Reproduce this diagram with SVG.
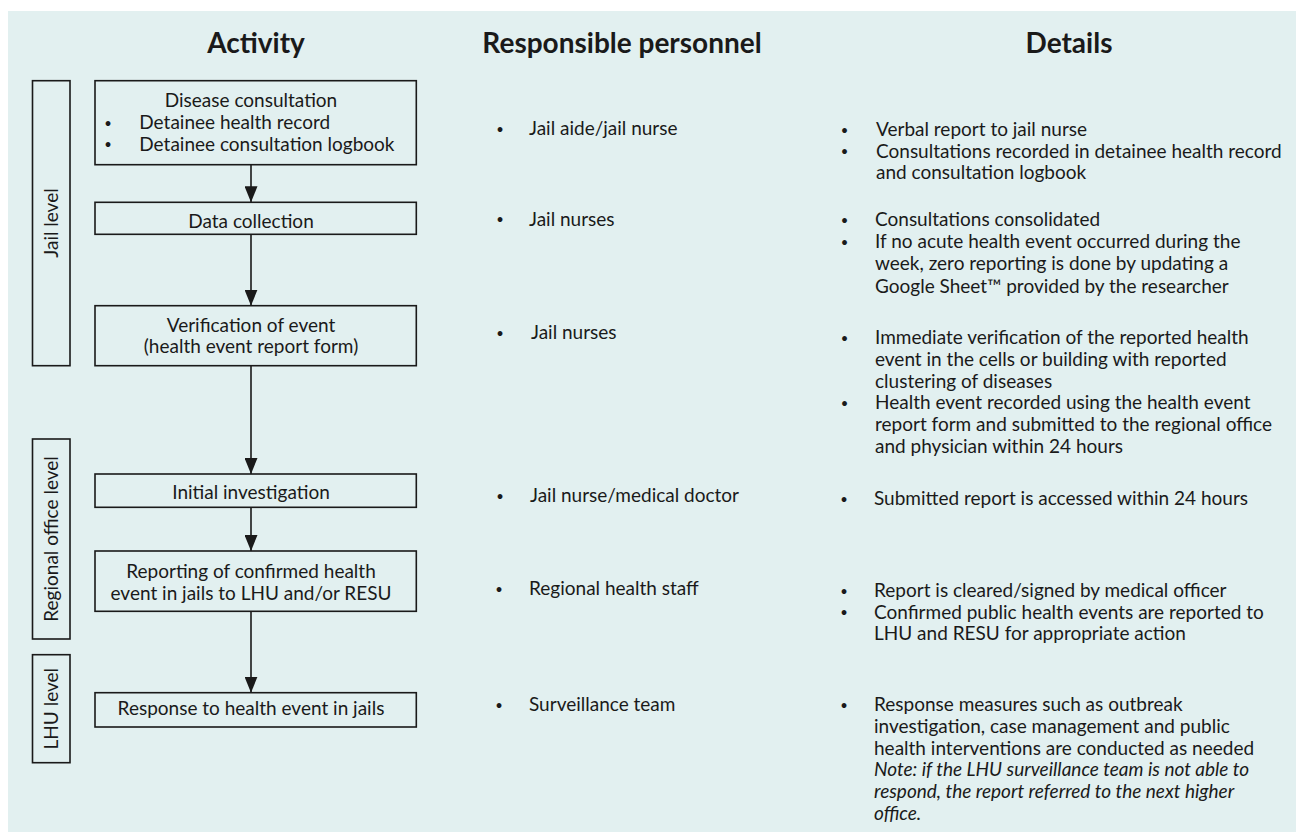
<svg xmlns="http://www.w3.org/2000/svg" width="1296" height="832" viewBox="0 0 1296 832">
<defs>
<style>
text{font-family:Lato,"Source Sans Pro","Liberation Sans",sans-serif;fill:#1a1a1a;font-size:19px}
.h{font-weight:bold;font-size:28px;text-anchor:middle}
.c{text-anchor:middle}
.it{font-style:italic}
.b{font-size:13px;text-anchor:middle}
.box{fill:none;stroke:#1a1a1a;stroke-width:1.6}
.con{stroke:#1a1a1a;stroke-width:1.6;fill:none}
</style>
<marker id="ah" markerWidth="16" markerHeight="13" refX="16" refY="6.5" orient="auto" markerUnits="userSpaceOnUse">
<path d="M0,0 L16,6.5 L0,13 Z" fill="#1a1a1a"/>
</marker>
</defs>
<rect x="8" y="11" width="1288" height="821" fill="#e2f0f0"/>
<g id="headers">
<text class="h" x="256" y="53">Activity</text>
<text class="h" x="622" y="53">Responsible personnel</text>
<text class="h" x="1069" y="53">Details</text>
</g>
<g id="level-jail">
<rect class="box" x="32.5" y="80.7" width="37.5" height="285"/>
<text class="c" transform="translate(57.5,223) rotate(-90)">Jail level</text>
</g>
<g id="level-regional">
<rect class="box" x="32.5" y="439" width="37.5" height="200"/>
<text class="c" transform="translate(57.5,539) rotate(-90)">Regional office level</text>
</g>
<g id="level-lhu">
<rect class="box" x="32.5" y="654.7" width="37.5" height="108"/>
<text class="c" transform="translate(57.5,708.7) rotate(-90)">LHU level</text>
</g>
<g id="connectors">
<line class="con" x1="251" y1="164.7" x2="251" y2="202.3" marker-end="url(#ah)"/>
<line class="con" x1="251" y1="234.3" x2="251" y2="305.7" marker-end="url(#ah)"/>
<line class="con" x1="251" y1="365.7" x2="251" y2="474" marker-end="url(#ah)"/>
<line class="con" x1="251" y1="507.3" x2="251" y2="551" marker-end="url(#ah)"/>
<line class="con" x1="251" y1="611.3" x2="251" y2="692.7" marker-end="url(#ah)"/>
</g>
<g id="node-disease-consultation">
<rect class="box" x="95" y="80.7" width="321.3" height="84"/>
<text class="c" x="251" y="107.3">Disease consultation</text>
<text class="b" x="108" y="127.5">•</text><text x="139.3" y="129">Detainee health record</text>
<text class="b" x="108" y="149.2">•</text><text x="139.3" y="150.7">Detainee consultation logbook</text>
</g>
<g id="node-data-collection">
<rect class="box" x="95" y="202.3" width="321.3" height="32"/>
<text class="c" x="251" y="227.5">Data collection</text>
</g>
<g id="node-verification">
<rect class="box" x="95" y="305.7" width="321.3" height="60"/>
<text class="c" x="251" y="331.7">Verification of event</text>
<text class="c" x="251" y="353.4">(health event report form)</text>
</g>
<g id="node-initial-investigation">
<rect class="box" x="95" y="474" width="321.3" height="33.3"/>
<text class="c" x="251" y="499.3">Initial investigation</text>
</g>
<g id="node-reporting">
<rect class="box" x="95" y="551" width="321.3" height="60.3"/>
<text class="c" x="251" y="578">Reporting of confirmed health</text>
<text class="c" x="251" y="599.7">event in jails to LHU and/or RESU</text>
</g>
<g id="node-response">
<rect class="box" x="95" y="692.7" width="321.3" height="34.3"/>
<text class="c" x="251" y="715">Response to health event in jails</text>
</g>
<g id="personnel">
<text class="b" x="500" y="133.5">•</text><text x="529" y="135">Jail aide/jail nurse</text>
<text class="b" x="500" y="224">•</text><text x="529" y="225.5">Jail nurses</text>
<text class="b" x="500" y="337.5">•</text><text x="531" y="339">Jail nurses</text>
<text class="b" x="500" y="500.5">•</text><text x="530" y="502">Jail nurse/medical doctor</text>
<text class="b" x="499" y="593.5">•</text><text x="529" y="595">Regional health staff</text>
<text class="b" x="499" y="709.5">•</text><text x="529" y="711">Surveillance team</text>
</g>
<g id="details">
<text class="b" x="844.5" y="134.5">•</text><text x="876" y="136">Verbal report to jail nurse</text>
<text class="b" x="844.5" y="156.2">•</text><text x="876" y="157.7">Consultations recorded in detainee health record</text>
<text x="876" y="179.4">and consultation logbook</text>
<text class="b" x="844.5" y="224.5">•</text><text x="875" y="226">Consultations consolidated</text>
<text class="b" x="844.5" y="246.5">•</text><text x="875" y="248">If no acute health event occurred during the</text>
<text x="875" y="270.3">week, zero reporting is done by updating a</text>
<text x="875" y="292.5">Google Sheet™ provided by the researcher</text>
<text class="b" x="844.5" y="342.8">•</text><text x="875" y="344.3">Immediate verification of the reported health</text>
<text x="875" y="366">event in the cells or building with reported</text>
<text x="875" y="387.7">clustering of diseases</text>
<text class="b" x="844.5" y="407.9">•</text><text x="875" y="409.4">Health event recorded using the health event</text>
<text x="875" y="431.1">report form and submitted to the regional office</text>
<text x="875" y="452.8">and physician within 24 hours</text>
<text class="b" x="844" y="503.5">•</text><text x="874" y="505">Submitted report is accessed within 24 hours</text>
<text class="b" x="844" y="595.5">•</text><text x="874" y="597">Report is cleared/signed by medical officer</text>
<text class="b" x="844" y="617.2">•</text><text x="874" y="618.7">Confirmed public health events are reported to</text>
<text x="874" y="640.4">LHU and RESU for appropriate action</text>
<text class="b" x="844" y="709.5">•</text><text x="874" y="711">Response measures such as outbreak</text>
<text x="874" y="732.8">investigation, case management and public</text>
<text x="874" y="754.6">health interventions are conducted as needed</text>
<text class="it" x="874" y="776.4">Note: if the LHU surveillance team is not able to</text>
<text class="it" x="874" y="798.2">respond, the report referred to the next higher</text>
<text class="it" x="874" y="820">office.</text>
</g>
</svg>
